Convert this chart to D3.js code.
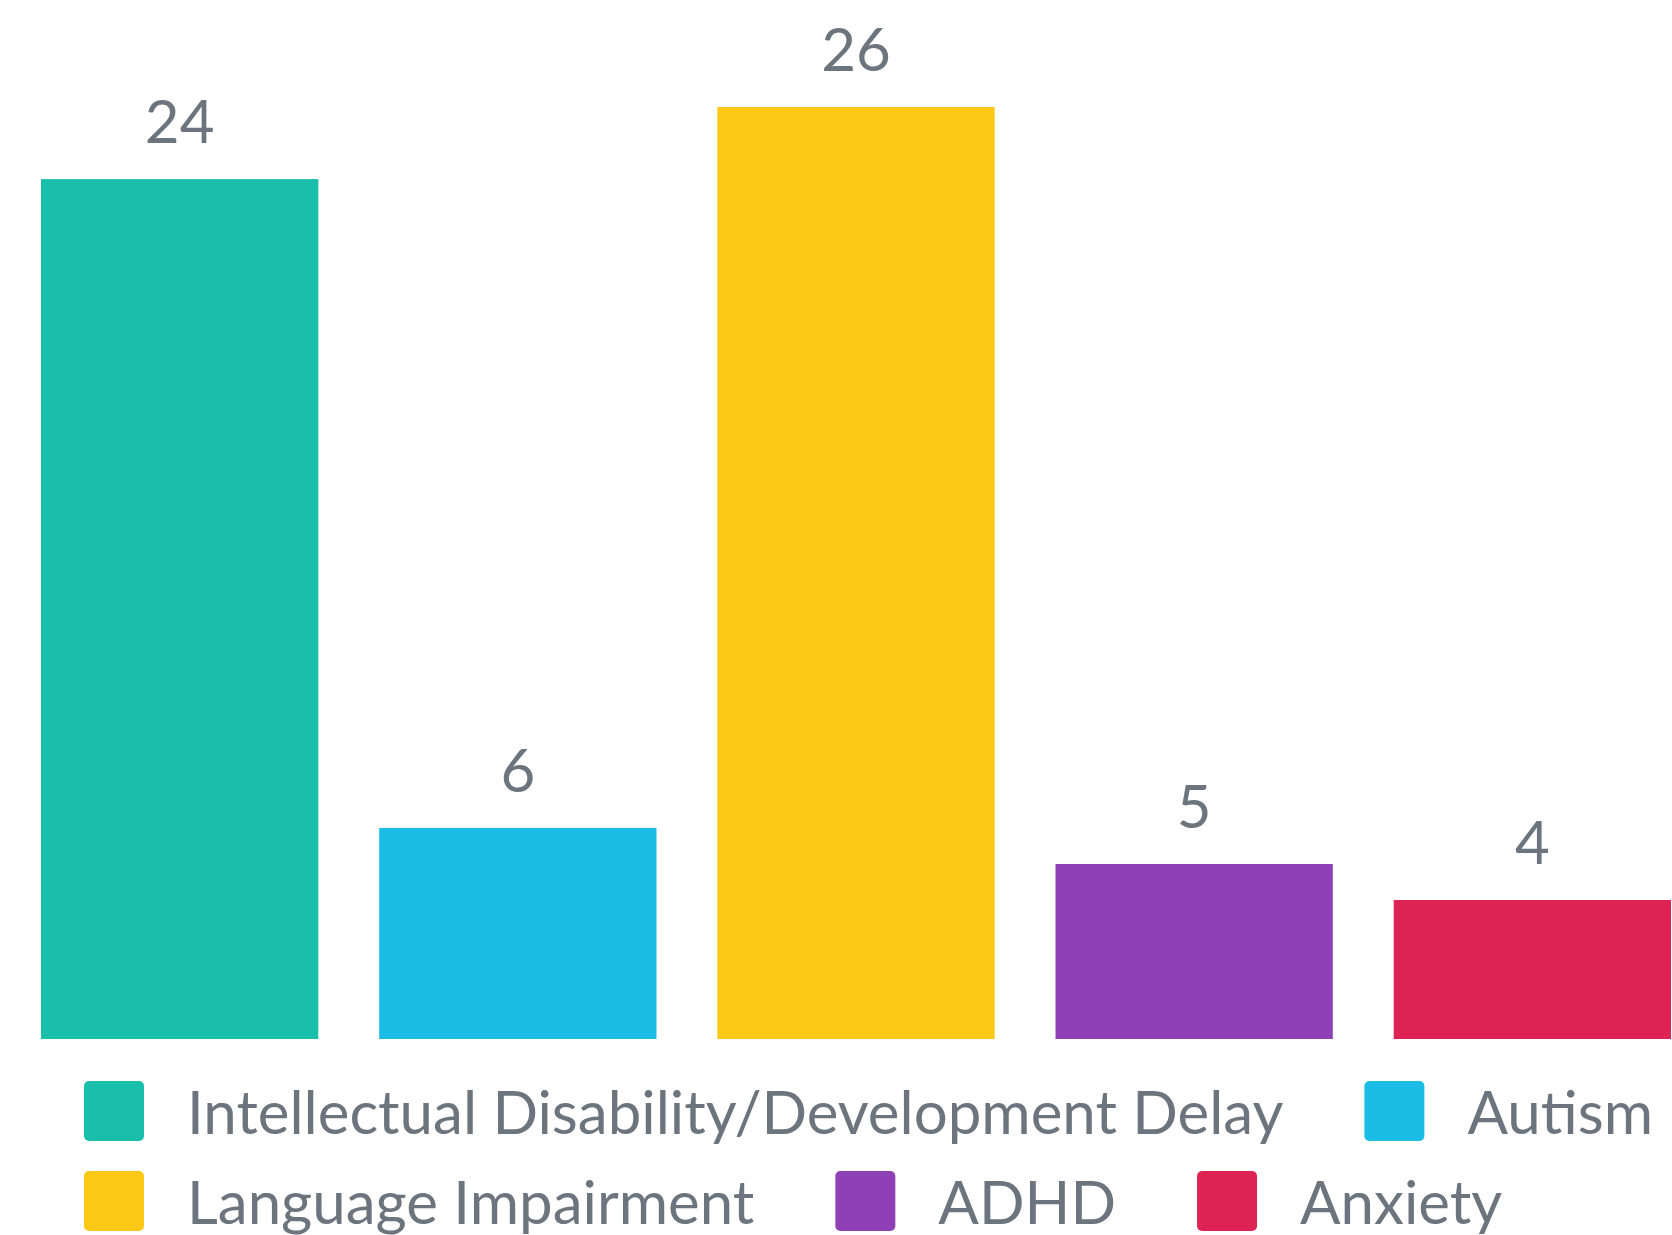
<!DOCTYPE html>
<html>
<head>
<meta charset="utf-8">
<script src="https://cdn.jsdelivr.net/npm/d3@7"></script>
<style>
  html, body { margin: 0; padding: 0; background: #ffffff; }
  svg { display: block; }
  text { font-family: Lato, "Open Sans", sans-serif; fill: #6c757d; }
</style>
</head>
<body>
<svg id="chart" width="1672" height="1235"></svg>
<script>
// ---- data ----
const categories = ["Intellectual Disability/Development Delay", "Autism", "Language Impairment", "ADHD", "Anxiety"];
const values = [24, 6, 26, 5, 4];
const colors = ["#1abfab", "#1bbde6", "#fec817", "#8e41b5", "#dc2354"];
const legendRows = [[0, 1], [2, 3, 4]];

// ---- layout ----
const W = 1672, H = 1235;
const plotLeft = 41, plotRight = 1671, plotBottom = 1039;
const fontSize = 60;

const svg = d3.select("#chart");

const x = d3.scaleBand()
  .domain(categories)
  .range([plotLeft, plotRight])
  .paddingInner(0.18)
  .paddingOuter(0);

const y = d3.scaleLinear()
  .domain([0, 26])
  .range([1044.2, 107]);

svg.append("defs").append("clipPath").attr("id", "plotClip")
  .append("rect").attr("x", 0).attr("y", 0).attr("width", W).attr("height", plotBottom);

const data = categories.map((c, i) => ({ c, v: values[i], col: colors[i] }));

svg.append("g").attr("clip-path", "url(#plotClip)")
  .selectAll("rect").data(data).join("rect")
  .attr("x", d => x(d.c))
  .attr("y", d => y(d.v))
  .attr("width", x.bandwidth())
  .attr("height", d => y(0) - y(d.v))
  .attr("fill", d => d.col);

svg.append("g").selectAll("text").data(data).join("text")
  .attr("x", d => x(d.c) + x.bandwidth() / 2)
  .attr("y", d => y(d.v) - 36)
  .attr("text-anchor", "middle")
  .attr("font-size", fontSize)
  .text(d => d.v);

// ---- legend (flow layout) ----
const legend = svg.append("g");
const swatch = 60, textGap = 43, itemGap = 81;
const legendLeft = 84, firstRowTop = 1081, rowStep = 90;

legendRows.forEach((row, r) => {
  let cx = legendLeft;
  const top = firstRowTop + r * rowStep;
  row.forEach(i => {
    const g = legend.append("g");
    g.append("rect")
      .attr("x", cx).attr("y", top)
      .attr("width", swatch).attr("height", swatch)
      .attr("rx", 5).attr("ry", 5)
      .attr("fill", colors[i]);
    const t = g.append("text")
      .attr("x", cx + swatch + textGap)
      .attr("y", top + 53)
      .attr("font-size", fontSize)
      .text(categories[i]);
    const tw = t.node().getComputedTextLength();
    cx += swatch + textGap + tw + itemGap;
  });
});
</script>
</body>
</html>
